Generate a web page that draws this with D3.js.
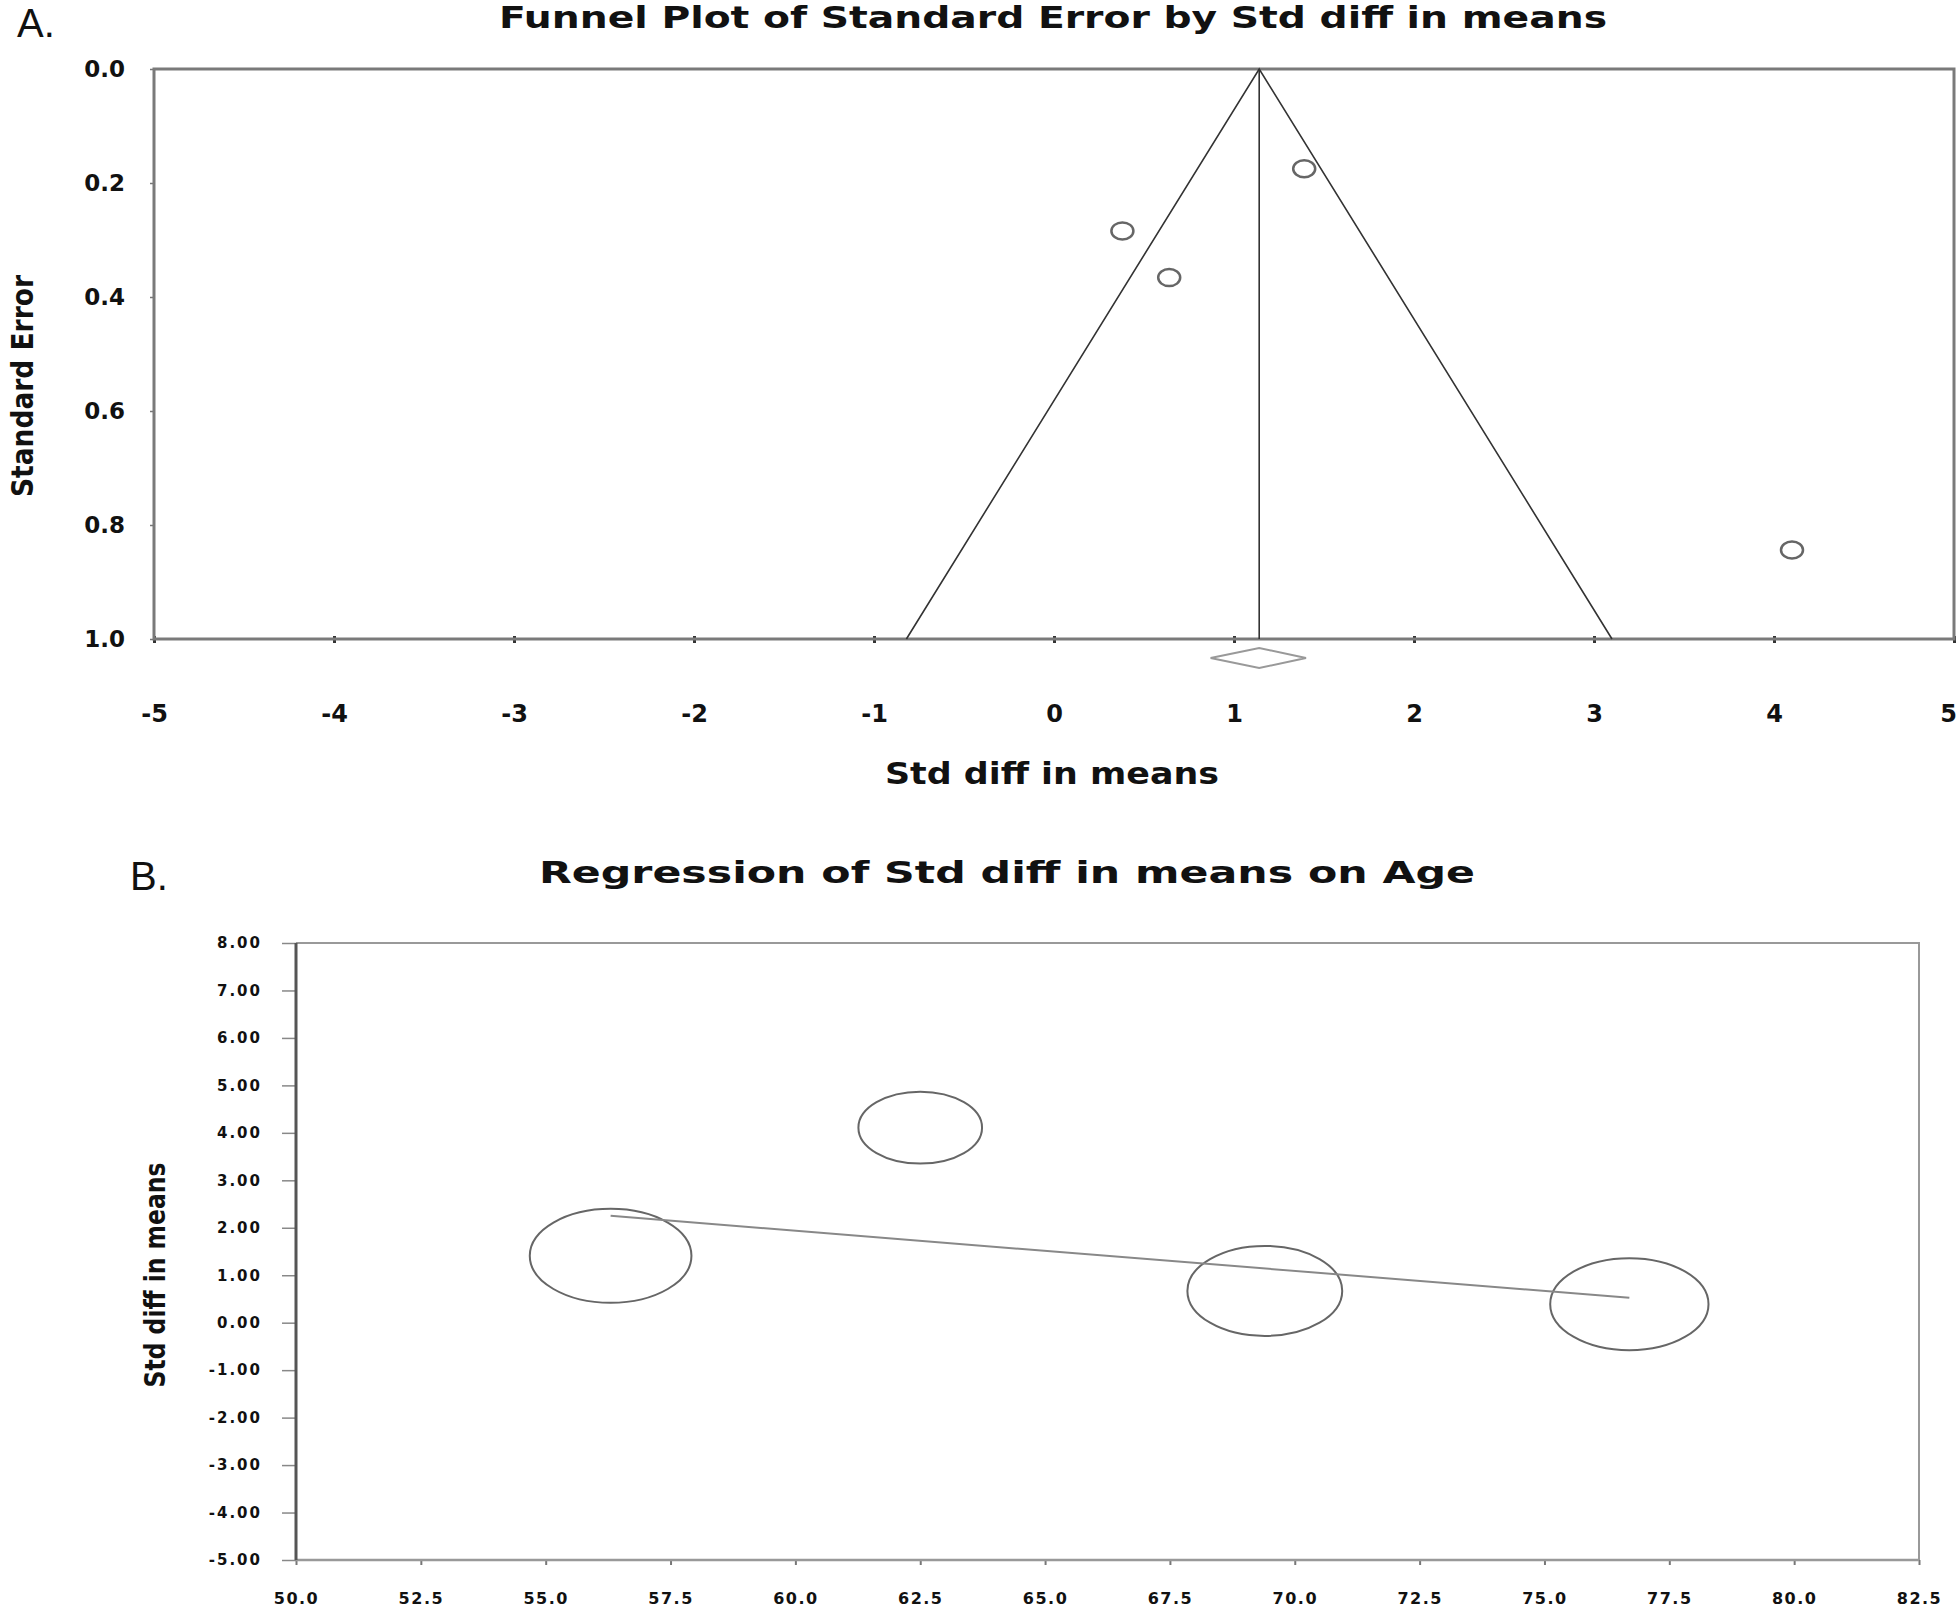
<!DOCTYPE html>
<html>
<head>
<meta charset="utf-8">
<script src="https://cdn.jsdelivr.net/npm/d3@7"></script>
<style>
  body { margin: 0; background: #fff; }
  text { font-family: "DejaVu Sans", sans-serif; font-weight: bold; fill: #111; }
</style>
</head>
<body>
<svg width="1960" height="1608"></svg>
<script>
// ---- panel A: funnel plot ----
var studyDiff = [1.39, 0.38, 0.64, 4.10];
var studySE = [0.175, 0.284, 0.366, 0.844];
var pooledDiff = 1.14, pooledLo = 0.87, pooledHi = 1.40;
var funnelXTicks = [-5, -4, -3, -2, -1, 0, 1, 2, 3, 4, 5];
var funnelYTicks = [0, 0.2, 0.4, 0.6, 0.8, 1.0];

// ---- panel B: meta-regression on age ----
var ages = [56.3, 62.5, 69.4, 76.7];
var ageDiff = [1.41, 4.11, 0.67, 0.39];
var ageWeight = [28.9, 16.9, 26.5, 27.7];
var regIntercept = 7.02, regSlope = -0.0847;
var ageTicks = [50, 52.5, 55, 57.5, 60, 62.5, 65, 67.5, 70, 72.5, 75, 77.5, 80, 82.5];
var diffTicks = [8, 7, 6, 5, 4, 3, 2, 1, 0, -1, -2, -3, -4, -5];

// plain hyphen for negatives, like the original software
var fmt = d3.formatLocale({decimal: ".", thousands: ",", grouping: [3], currency: ["", ""], minus: "-"}).format;

var svg = d3.select("svg");

// panel labels
svg.append("text").attr("x", 17).attr("y", 37)
    .style("font-family", "Liberation Sans, sans-serif").style("font-weight", "normal")
    .attr("font-size", 40).text("A.");
svg.append("text").attr("x", 130).attr("y", 890)
    .style("font-family", "Liberation Sans, sans-serif").style("font-weight", "normal")
    .attr("font-size", 40).text("B.");

// ========== A ==========
var a = {left: 154, right: 1954, top: 69, bottom: 639};
var xA = d3.scaleLinear().domain([-5, 5]).range([a.left, a.right]);
var yA = d3.scaleLinear().domain([0, 1]).range([a.top, a.bottom]);

svg.append("text")
    .attr("x", 1053).attr("y", 28)
    .attr("text-anchor", "middle")
    .attr("font-size", 31)
    .attr("textLength", 1108).attr("lengthAdjust", "spacingAndGlyphs")
    .text("Funnel Plot of Standard Error by Std diff in means");

var gA = svg.append("g");

gA.append("g")
    .attr("transform", "translate(0," + a.bottom + ")")
    .call(d3.axisBottom(xA).tickValues(funnelXTicks).tickSize(4).tickPadding(62).tickFormat(fmt("d")))
    .call(function(g) { g.select(".domain").remove(); })
    .call(function(g) {
        g.selectAll("line").attr("stroke", "#333").attr("stroke-width", 3).attr("y1", -3);
        g.selectAll("text").attr("font-size", 24).attr("fill", "#111")
            .style("font-family", "DejaVu Sans, sans-serif").style("font-weight", "bold");
        // keep the last label inside the page
        g.selectAll("text").filter(function(d) { return d === 5; }).attr("dx", -6);
    });

gA.append("g")
    .attr("transform", "translate(" + a.left + ",0)")
    .call(d3.axisLeft(yA).tickValues(funnelYTicks).tickSize(4).tickPadding(25).tickFormat(fmt(".1f")))
    .call(function(g) { g.select(".domain").remove(); })
    .call(function(g) {
        g.selectAll("line").attr("stroke", "#777").attr("stroke-width", 1.5);
        g.selectAll("text").attr("font-size", 23).attr("fill", "#111")
            .style("font-family", "DejaVu Sans, sans-serif").style("font-weight", "bold");
    });

gA.append("rect")
    .attr("x", a.left).attr("y", a.top)
    .attr("width", a.right - a.left).attr("height", a.bottom - a.top)
    .attr("fill", "none").attr("stroke", "#7a7a7a").attr("stroke-width", 3);

// funnel
var funnel = [[pooledDiff - 1.96, 1], [pooledDiff, 0], [pooledDiff + 1.96, 1]];
gA.append("path")
    .datum(funnel)
    .attr("fill", "none").attr("stroke", "#333").attr("stroke-width", 1.6)
    .attr("d", d3.line().x(function(d) { return xA(d[0]); }).y(function(d) { return yA(d[1]); }));
gA.append("line")
    .attr("x1", xA(pooledDiff)).attr("x2", xA(pooledDiff))
    .attr("y1", yA(0)).attr("y2", yA(1))
    .attr("stroke", "#333").attr("stroke-width", 1.6);

// pooled diamond below the axis
var dy = yA(1) + 19;
gA.append("path")
    .attr("d", "M" + xA(pooledLo) + "," + dy + "L" + xA(pooledDiff) + "," + (dy - 10) +
        "L" + xA(pooledHi) + "," + dy + "L" + xA(pooledDiff) + "," + (dy + 10) + "Z")
    .attr("fill", "none").attr("stroke", "#999").attr("stroke-width", 2);

gA.selectAll("ellipse.study")
    .data(studyDiff).enter()
    .append("ellipse")
    .attr("class", "study")
    .attr("cx", function(d) { return xA(d); })
    .attr("cy", function(d, i) { return yA(studySE[i]); })
    .attr("rx", 11).attr("ry", 8.5)
    .attr("fill", "none").attr("stroke", "#666").attr("stroke-width", 2.5);

svg.append("text")
    .attr("x", 1052).attr("y", 784)
    .attr("text-anchor", "middle")
    .attr("font-size", 31)
    .attr("textLength", 334).attr("lengthAdjust", "spacingAndGlyphs")
    .text("Std diff in means");

svg.append("text")
    .attr("transform", "translate(33,386) rotate(-90)")
    .attr("text-anchor", "middle")
    .attr("font-size", 30)
    .attr("textLength", 222).attr("lengthAdjust", "spacingAndGlyphs")
    .text("Standard Error");

// ========== B ==========
var b = {left: 296, right: 1919, top: 943, bottom: 1560};
var xB = d3.scaleLinear().domain([50, 82.5]).range([b.left, b.right]);
var yB = d3.scaleLinear().domain([-5, 8]).range([b.bottom, b.top]);
var rB = d3.scaleSqrt().domain([0, d3.max(ageWeight)]).range([0, 47]);

svg.append("text")
    .attr("x", 1007).attr("y", 883)
    .attr("text-anchor", "middle")
    .attr("font-size", 31)
    .attr("textLength", 936).attr("lengthAdjust", "spacingAndGlyphs")
    .text("Regression of Std diff in means on Age");

var gB = svg.append("g");

gB.append("g")
    .attr("transform", "translate(0," + b.bottom + ")")
    .call(d3.axisBottom(xB).tickValues(ageTicks).tickSize(5).tickPadding(28).tickFormat(fmt(".1f")))
    .call(function(g) { g.select(".domain").remove(); })
    .call(function(g) {
        g.selectAll("line").attr("stroke", "#777").attr("stroke-width", 2);
        g.selectAll("text").attr("font-size", 16).attr("fill", "#222").attr("letter-spacing", 1.5)
            .style("font-family", "DejaVu Sans, sans-serif").style("font-weight", "bold");
    });

gB.append("g")
    .attr("transform", "translate(" + b.left + ",0)")
    .call(d3.axisLeft(yB).tickValues(diffTicks).tickSize(14).tickPadding(20).tickFormat(fmt(".2f")))
    .call(function(g) { g.select(".domain").remove(); })
    .call(function(g) {
        g.selectAll("line").attr("stroke", "#888").attr("stroke-width", 1.5);
        g.selectAll("text").attr("font-size", 15).attr("fill", "#222").attr("letter-spacing", 2)
            .style("font-family", "DejaVu Sans, sans-serif").style("font-weight", "bold");
    });

// frame
gB.append("path")
    .attr("d", "M" + b.left + "," + b.top + "H" + b.right + "V" + b.bottom)
    .attr("fill", "none").attr("stroke", "#999").attr("stroke-width", 2);
gB.append("line")
    .attr("x1", b.left).attr("x2", b.right).attr("y1", b.bottom).attr("y2", b.bottom)
    .attr("stroke", "#999").attr("stroke-width", 2.5);
gB.append("line")
    .attr("x1", b.left).attr("x2", b.left).attr("y1", b.top).attr("y2", b.bottom)
    .attr("stroke", "#555").attr("stroke-width", 3);

// bubbles
gB.selectAll("ellipse.bubble")
    .data(ages).enter()
    .append("ellipse")
    .attr("class", "bubble")
    .attr("cx", function(d) { return xB(d); })
    .attr("cy", function(d, i) { return yB(ageDiff[i]); })
    .attr("rx", function(d, i) { return rB(ageWeight[i]) * 1.72; })
    .attr("ry", function(d, i) { return rB(ageWeight[i]); })
    .attr("fill", "none").attr("stroke", "#666").attr("stroke-width", 2);

// regression line across the observed ages
var ageExt = d3.extent(ages);
gB.append("line")
    .attr("x1", xB(ageExt[0])).attr("y1", yB(regIntercept + regSlope * ageExt[0]))
    .attr("x2", xB(ageExt[1])).attr("y2", yB(regIntercept + regSlope * ageExt[1]))
    .attr("stroke", "#888").attr("stroke-width", 2);

svg.append("text")
    .attr("transform", "translate(165,1275) rotate(-90)")
    .attr("text-anchor", "middle")
    .attr("font-size", 28)
    .attr("textLength", 225).attr("lengthAdjust", "spacingAndGlyphs")
    .text("Std diff in means");
</script>
</body>
</html>
